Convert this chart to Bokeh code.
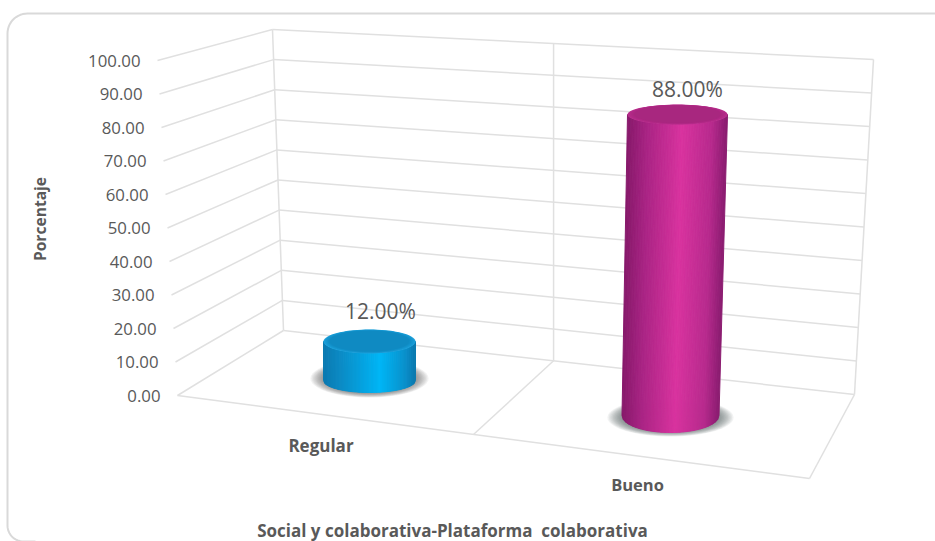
import numpy as np
from bokeh.embed import file_html
from bokeh.resources import INLINE
from bokeh.plotting import figure
from bokeh.models import LinearAxis, FixedTicker, NumeralTickFormatter, Label

# Chart values
categories = ["Regular", "Bueno"]
percentages = [12.00, 88.00]
tick_values = [0, 10, 20, 30, 40, 50, 60, 70, 80, 90, 100]
axis_title = "Porcentaje"
category_title = "Social y colaborativa-Plataforma\u00a0 colaborativa"

W, H = 935, 541
FONT = "Open Sans"
TEXT = "#595959"
GRID = "#e0e0e0"

# The value scale runs along the front-left edge of the 3D box.
Y0_PX, Y100_PX = 395.0, 60.0
PX_PER_UNIT = (Y0_PX - Y100_PX) / 100.0


def dy(py):
    """Convert a page row to the value scale."""
    return (Y0_PX - np.asarray(py, dtype=float)) / PX_PER_UNIT


p = figure(
    width=W, height=H, output_backend="svg", toolbar_location=None,
    x_range=(0, W), y_range=(float(dy(H)), float(dy(0))),
    x_axis_type=None, y_axis_type=None, min_border=0,
    outline_line_color=None, background_fill_color="white",
    border_fill_color="white",
)

# Box corners in page pixels
FL = lambda v: (177 - 20 * v / 100, 395 - 335 * v / 100)
BL = lambda v: (283 - 11 * v / 100, 330 - 301 * v / 100)
BR = lambda v: (854 + 19 * v / 100, 394 - 335 * v / 100)
MID_T = 0.473

# Each tick label follows the slanted front edge, so every tick gets its own axis
for tick in tick_values:
    value_axis = LinearAxis(
        ticker=FixedTicker(ticks=[tick]),
        formatter=NumeralTickFormatter(format="0.00"),
        fixed_location=FL(tick)[0] - 6,
        axis_line_color=None, major_tick_line_color=None, minor_tick_line_color=None,
        major_label_standoff=5,
        major_label_text_font=FONT, major_label_text_font_size="16.8px",
        major_label_text_color=TEXT,
    )
    p.add_layout(value_axis, "left")

# Rounded chart frame, open to the right and below
frame_r = 20
arc = np.linspace(0, np.pi / 2, 14)
fx = [W] + list(7 + frame_r - frame_r * np.sin(arc)) + list(7 + 16 - 16 * np.cos(arc)) + [35]
fy = [13] + list(13 + frame_r - frame_r * np.cos(arc)) + list(525 + 16 * np.sin(arc)) + [541]
p.line(fx, dy(fy), line_color="#d9d9d9", line_width=2)


def mid_back(v):
    a, b = BL(v), BR(v)
    return (a[0] + (b[0] - a[0]) * MID_T, a[1] + (b[1] - a[1]) * MID_T)


def seg(a, b):
    p.line([a[0], b[0]], dy([a[1], b[1]]), line_color=GRID, line_width=1.5)


for v in tick_values:
    seg(FL(v), BL(v))
    seg(BL(v), BR(v))
seg(BL(0), BL(100))
seg(BR(0), BR(100))
m0, m100 = mid_back(0), mid_back(100)
seg(m0, (m0[0], m100[1]))
front_right = (809, 478)
front_mid = (473, 434)
seg(FL(0), front_right)
seg(front_right, BR(0))
seg(m0, front_mid)

# Cylinder placement and shading, one entry per category
shapes = [
    dict(base=(369, 380), top_dx=0, scale=3.25, rx0=46, ry0=12, rx1=46, ry1=12,
         shadow=(369, 378, 59, 19), shadow_c="#5a5a5a",
         ramp=[(0.0, "#0a79b0"), (0.18, "#0c8ac4"), (0.62, "#00b6f6"), (0.9, "#0a8fca"), (1.0, "#0a78ae")],
         rim="#1b9fd9", cap="#0f8ac2", label_off=(11, -31)),
    dict(base=(670, 415), top_dx=7, scale=3.42, rx0=48.5, ry0=17, rx1=50, ry1=10,
         shadow=(670, 417, 63, 19), shadow_c="#4f5f58",
         ramp=[(0.0, "#86196a"), (0.2, "#a92484"), (0.55, "#d9339f"), (0.85, "#b72a8d"), (1.0, "#8a1c70")],
         rim="#b82c8c", cap="#a8277f", label_off=(10, -26)),
]


def hexrgb(c):
    return np.array([int(c[i:i + 2], 16) for i in (1, 3, 5)], dtype=float)


def ramp_color(ramp, t):
    ts = [r[0] for r in ramp]
    rgb = [hexrgb(r[1]) for r in ramp]
    vals = [np.interp(t, ts, [c[k] for c in rgb]) for k in range(3)]
    return "#%02x%02x%02x" % tuple(int(round(x)) for x in vals)


def ellipse_pts(cx, cy, rx, ry, n=72):
    a = np.linspace(0, 2 * np.pi, n, endpoint=False)
    return cx + rx * np.cos(a), cy + ry * np.sin(a)


for name, value, s in zip(categories, percentages, shapes):
    bx, by = s["base"]
    tx, ty = bx + s["top_dx"], by - value * s["scale"]

    # Soft contact shadow built from stacked translucent ellipses
    sx, sy, srx, sry = s["shadow"]
    for f in np.linspace(1.0, 0.72, 14):
        ex, ey = ellipse_pts(sx, sy, srx * f, sry * f)
        p.patch(ex, dy(ey), fill_color=s["shadow_c"], fill_alpha=0.08, line_color=None)

    # Cylinder wall as narrow shaded strips
    n = 70
    ts = np.linspace(0, 1, n + 1)
    xs, ys, cols = [], [], []
    for t0, t1 in zip(ts[:-1], ts[1:]):
        u0, u1 = 2 * t0 - 1, 2 * t1 - 1
        h0, h1 = np.sqrt(1 - u0 ** 2), np.sqrt(1 - u1 ** 2)
        xs.append([bx + s["rx0"] * u0, bx + s["rx0"] * u1, tx + s["rx1"] * u1, tx + s["rx1"] * u0])
        ys.append(list(dy([by + s["ry0"] * h0, by + s["ry0"] * h1, ty + s["ry1"] * h1, ty + s["ry1"] * h0])))
        cols.append(ramp_color(s["ramp"], (t0 + t1) / 2))
    p.patches(xs, ys, fill_color=cols, line_color=cols, line_width=1)

    # Cap with a lighter bevelled rim
    ex, ey = ellipse_pts(tx, ty, s["rx1"], s["ry1"])
    p.patch(ex, dy(ey), fill_color=s["rim"], line_color=None)
    for f, mix in zip(np.linspace(0.97, 0.86, 6), np.linspace(0.2, 1.0, 6)):
        c = (hexrgb(s["rim"]) * (1 - mix) + hexrgb(s["cap"]) * mix)
        ex, ey = ellipse_pts(tx, ty - (1 - f) * s["ry1"] * 0.2, s["rx1"] * f, s["ry1"] * f)
        p.patch(ex, dy(ey), fill_color="#%02x%02x%02x" % tuple(int(x) for x in c), line_color=None)

    # Value label above the cap
    ox, oy = s["label_off"]
    p.add_layout(Label(
        x=tx + ox, y=float(dy(ty + oy)), text=f"{value:.2f}%",
        text_font=FONT, text_font_size="21px", text_color=TEXT,
        text_align="center", text_baseline="middle",
    ))


def caption(x, y, text, size, angle=0.0):
    p.add_layout(Label(
        x=x, y=float(dy(y)), text=text, angle=angle,
        text_font=FONT, text_font_size=size, text_font_style="bold",
        text_color=TEXT, text_align="center", text_baseline="middle",
    ))


caption(320.5, 445, categories[0], "17px")
caption(637, 484, categories[1], "16.5px")
caption(452, 530, category_title, "17px")
caption(39, 218.5, axis_title, "15.6px", angle=np.pi / 2)

open("out.html", "w").write(file_html(p, INLINE))
